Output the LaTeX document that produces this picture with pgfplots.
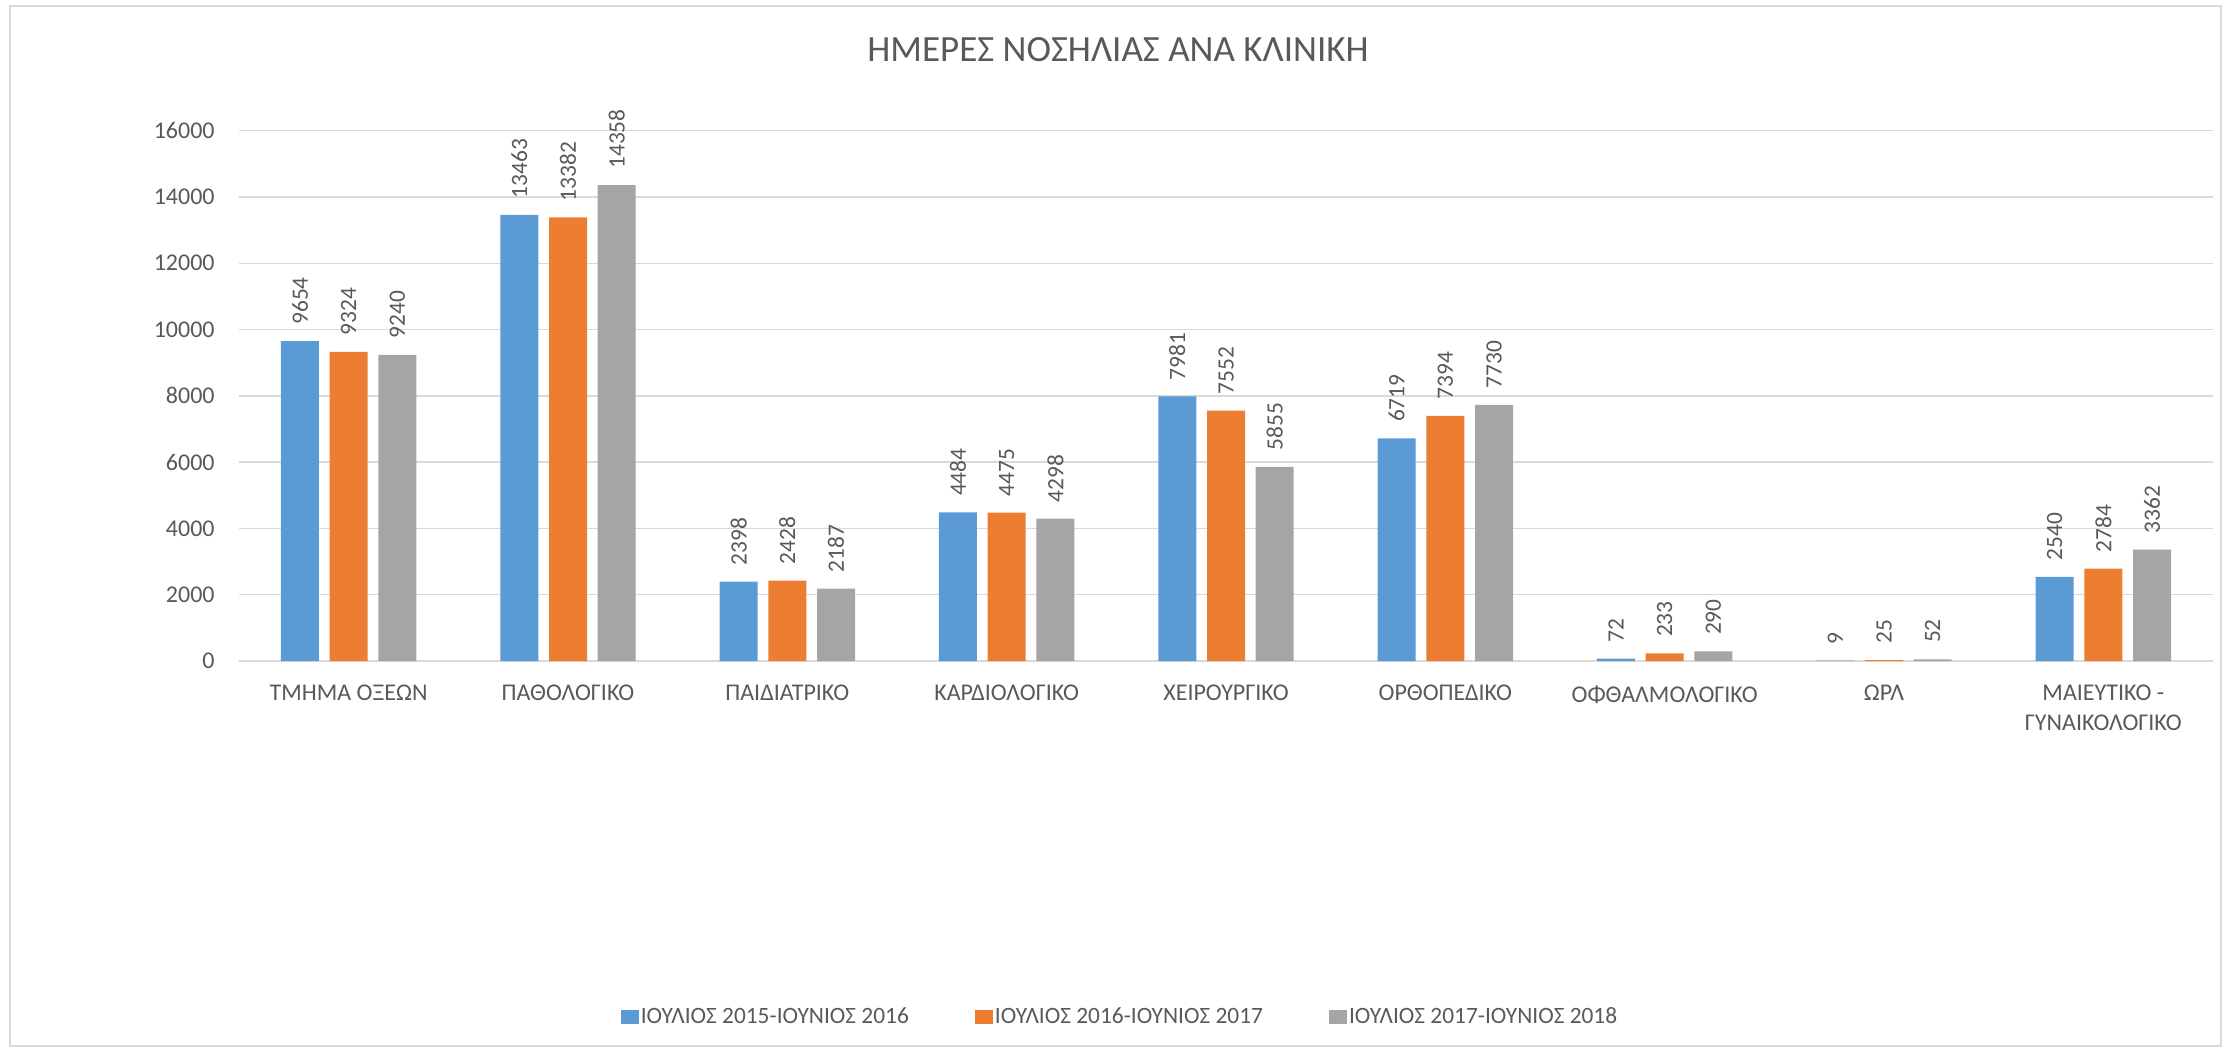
\documentclass[border=0pt]{standalone}
\usepackage{fontspec}
\setmainfont{Carlito}
\usepackage{pgfplots}
\pgfplotsset{compat=1.18}
\definecolor{cblue}{HTML}{5B9BD5}
\definecolor{corange}{HTML}{ED7D31}
\definecolor{cgray}{HTML}{A5A5A5}
\definecolor{gridc}{HTML}{D9D9D9}
\definecolor{txt}{HTML}{595959}
\begin{document}
\begin{tikzpicture}
\path[use as bounding box] (0,0) rectangle (1116.5pt,525pt);
\draw[gridc, line width=0.7pt] (5pt,522pt) rectangle (1110.5pt,2pt);
\node[anchor=base, text=txt, inner sep=0pt, font=\fontsize{18.5}{22}\selectfont] at (559pt,494pt) {ΗΜΕΡΕΣ ΝΟΣΗΛΙΑΣ ΑΝΑ ΚΛΙΝΙΚΗ};
\begin{axis}[
  at={(119.5pt,194.5pt)}, anchor=south west,
  scale only axis, width=987pt, height=265.15pt,
  ymin=0, ymax=16000, xmin=-0.5, xmax=8.5,
  ytick={0,2000,...,16000},
  scaled y ticks=false,
  /pgf/number format/assume math mode=true,
  /pgf/number format/1000 sep={},
  xtick=data,
  xticklabels={{ΤΜΗΜΑ ΟΞΕΩΝ},{ΠΑΘΟΛΟΓΙΚΟ},{ΠΑΙΔΙΑΤΡΙΚΟ},{ΚΑΡΔΙΟΛΟΓΙΚΟ},{ΧΕΙΡΟΥΡΓΙΚΟ},{ΟΡΘΟΠΕΔΙΚΟ},{ΟΦΘΑΛΜΟΛΟΓΙΚΟ},{ΩΡΛ},{ΜΑΙΕΥΤΙΚΟ -\\ΓΥΝΑΙΚΟΛΟΓΙΚΟ}},
  ymajorgrids, major grid style={gridc, line width=0.75pt},
  axis line style={draw=none},
  major tick length=0pt, tick style={draw=none},
  tick label style={text=txt, font=\fontsize{12}{15}\selectfont},
  yticklabel style={anchor=east, inner sep=0pt, xshift=-12pt},
  xticklabel style={anchor=north, inner sep=0pt, yshift=-12pt, align=center},
  ybar=5.35pt, bar width=19pt,
  clip=false,
  nodes near coords,
  every node near coord/.append style={rotate=90, anchor=west, inner sep=0pt, inner xsep=8pt, text=txt, font=\fontsize{11.7}{14}\selectfont},
  legend columns=3,
  legend style={at={(0.4463,-0.671)}, anchor=center, draw=none, fill=none,
    font=\fontsize{11.7}{14}\selectfont, text=txt,
    nodes={inner sep=1pt},
    /tikz/every even column/.append style={column sep=32pt}},
  legend cell align=left,
  legend image code/.code={\fill[#1] (0pt,-3.6pt) rectangle (9pt,3.6pt);},
]
\addplot[fill=cblue, draw=none] coordinates {(0,9654) (1,13463) (2,2398) (3,4484) (4,7981) (5,6719) (6,72) (7,9) (8,2540)};
\addplot[fill=corange, draw=none] coordinates {(0,9324) (1,13382) (2,2428) (3,4475) (4,7552) (5,7394) (6,233) (7,25) (8,2784)};
\addplot[fill=cgray, draw=none] coordinates {(0,9240) (1,14358) (2,2187) (3,4298) (4,5855) (5,7730) (6,290) (7,52) (8,3362)};
\legend{ΙΟΥΛΙΟΣ 2015-ΙΟΥΝΙΟΣ 2016, ΙΟΥΛΙΟΣ 2016-ΙΟΥΝΙΟΣ 2017, ΙΟΥΛΙΟΣ 2017-ΙΟΥΝΙΟΣ 2018}
\end{axis}
\end{tikzpicture}
\end{document}
